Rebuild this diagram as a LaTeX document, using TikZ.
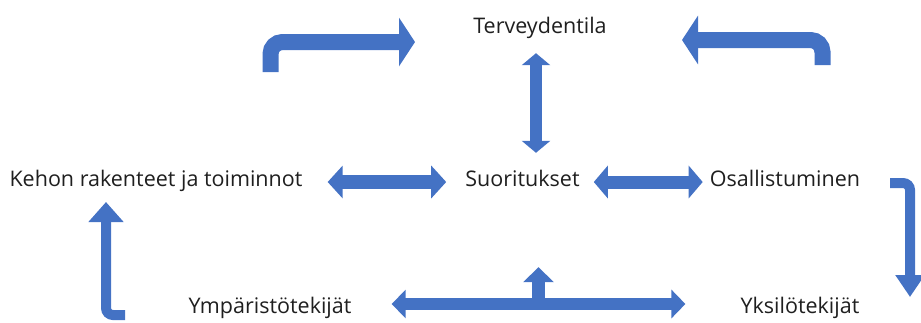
\documentclass[tikz,border=0pt]{standalone}
\usepackage{fontspec}
\setmainfont{Open Sans}
\usepackage{xcolor}
\usepackage{tikz}
\usetikzlibrary{arrows.meta}

\definecolor{pilari}{HTML}{4472C4}
\definecolor{teksti}{HTML}{1F1F1F}

\begin{document}
\begin{tikzpicture}[x=1pt, y=-1pt,
		lbl/.style={font=\fontsize{21.5}{24}\selectfont, text=teksti, inner sep=0pt, text height=16pt, text depth=5pt},
		nuoli/.style n args={3}{draw=pilari, line width=#1, >={Triangle[width=#2,length=#3]}}]
	\useasboundingbox (0,0) rectangle (921,322);

	% Tekstit
	\foreach \nm/\x/\y/\txt in {
		terv/540/27.5/Terveydentila,
		kehon/156/180.5/Kehon rakenteet ja toiminnot,
		suor/522.5/180.5/Suoritukset,
		osall/785/180.5/Osallistuminen,
		ymp/270/307.5/Ympäristötekijät,
		yksi/800/307.5/Yksilötekijät
	}{
		\node[lbl] (\nm) at (\x,\y) {\txt};
	}

	% Vaakanuolet
	\draw[nuoli={14pt}{32pt}{15pt}, <->] ([xshift=25pt,yshift=-1.5pt]kehon.east) -- ([xshift=-19pt,yshift=-1.5pt]suor.west);
	\draw[nuoli={13pt}{32pt}{14pt}, <->] ([xshift=14pt,yshift=-1.5pt]suor.east) -- ([xshift=-7pt,yshift=-1.5pt]osall.west);

	% Pystynuoli
	\coordinate (pysty) at ([xshift=-4pt,yshift=-15pt]terv.south);
	\draw[nuoli={12pt}{28pt}{12pt}, <->, shorten >=17pt] (pysty) -- (pysty |- suor.north);

	% Kaarinuolet ylhaalla
	\coordinate (vy) at (270.5,72);
	\coordinate (vk) at (415,42);
	\draw[nuoli={16pt}{48pt}{16pt}, rounded corners=12pt, ->] (vy) |- (vk);
	\coordinate (oy) at (822.5,65);
	\coordinate (ok) at (682,40);
	\draw[nuoli={16pt}{48pt}{16pt}, rounded corners=12pt, ->] (oy) |- (ok);

	% Sivunuolet
	\coordinate (va) at (125,315);
	\coordinate (vt) at (106,202);
	\draw[nuoli={10pt}{34pt}{20pt}, rounded corners=7pt, ->] (va) -| (vt);
	\coordinate (oa) at (890,183);
	\coordinate (ot) at (910,297);
	\draw[nuoli={10pt}{28pt}{22pt}, rounded corners=7pt, ->] (oa) -| (ot);

	% Alanuoli
	\coordinate (ala) at (538.5,304);
	\draw[nuoli={13pt}{30pt}{15pt}, ->, shorten >=76pt] (ala) -- (ala |- suor.south);
	\draw[nuoli={12pt}{28pt}{14pt}, <->, shorten <=40pt, shorten >=55pt] (ala -| ymp.east) -- (ala -| yksi.west);
\end{tikzpicture}
\end{document}
